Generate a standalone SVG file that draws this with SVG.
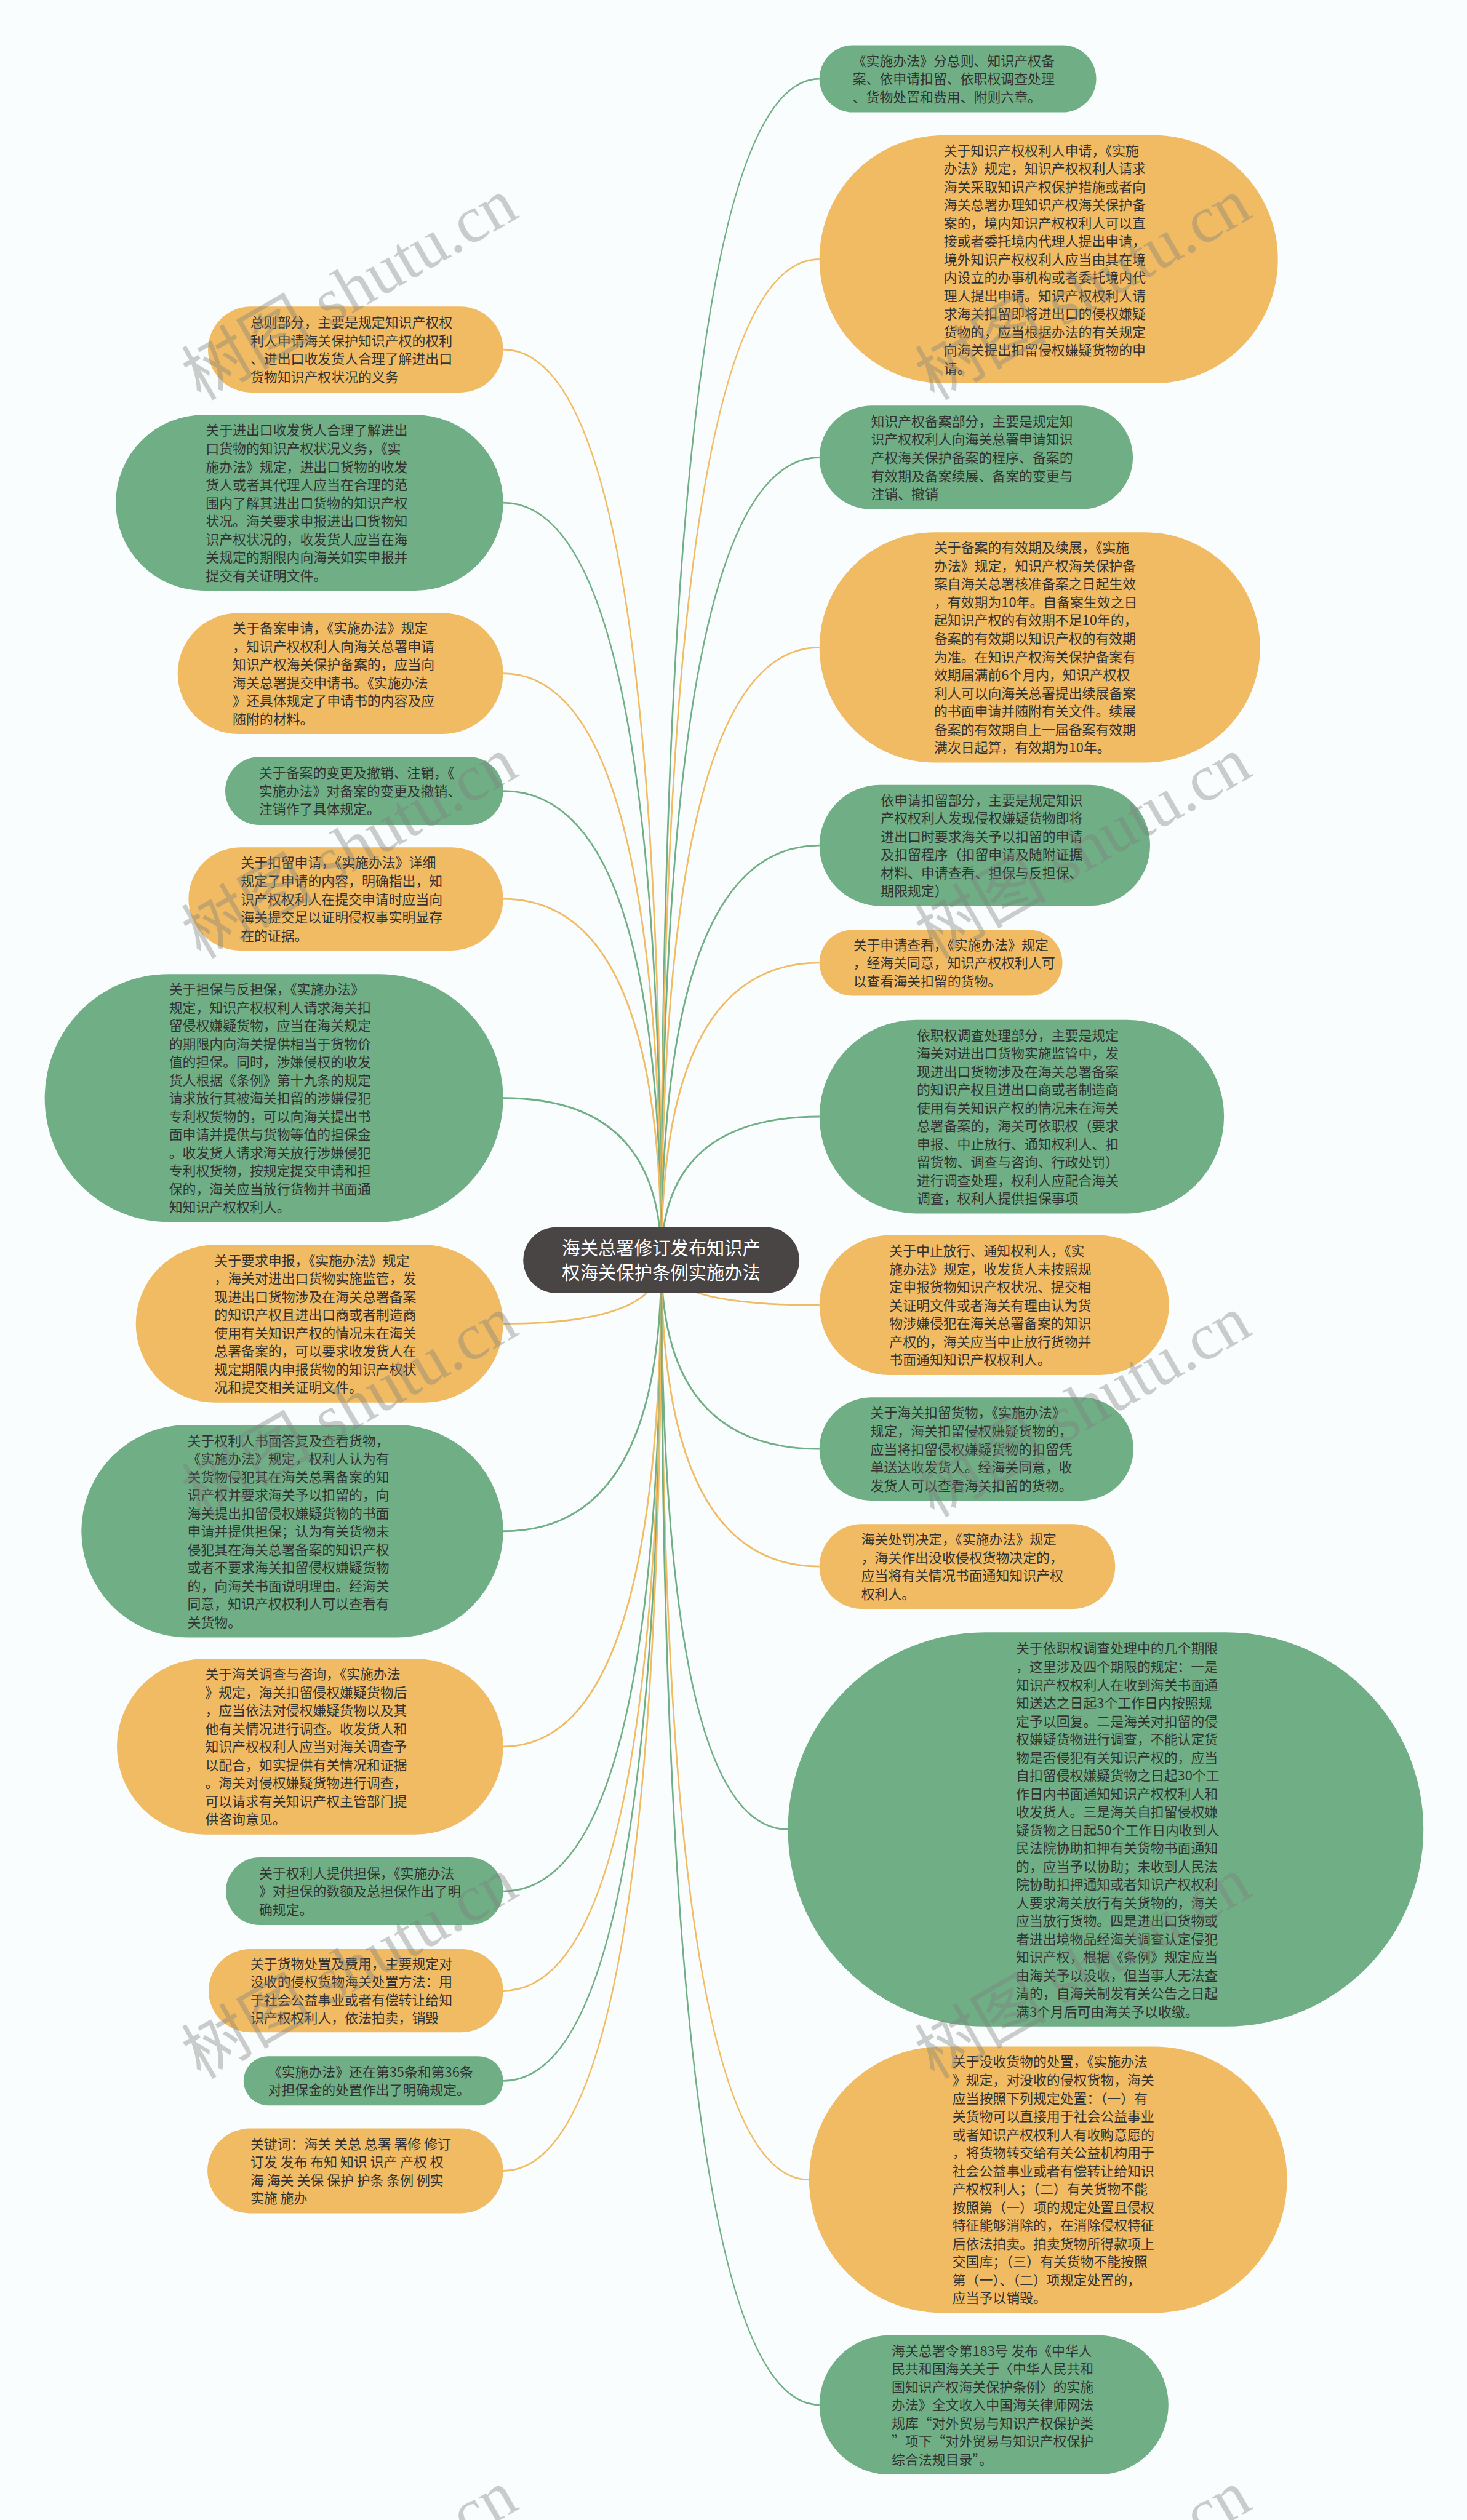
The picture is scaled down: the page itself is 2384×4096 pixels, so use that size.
<svg xmlns="http://www.w3.org/2000/svg" width="2384" height="4096" viewBox="0 0 2384 4096">
<style>
.g{fill:#70AF85}
.y{fill:#F0BB63}
.c{fill:none;stroke-width:3}
.lg{stroke:#70AF85}
.ly{stroke:#F0BB63}
.t{font-family:"Noto Sans CJK SC","Noto Sans",sans-serif;font-size:23.5px;fill:#333}
.rt{font-family:"Noto Sans CJK SC","Noto Sans",sans-serif;font-size:31.5px;fill:#ffffff;text-anchor:middle}
.wm{font-family:"Liberation Serif","Noto Sans CJK SC",serif;font-size:115px;fill:#7f7f7f;opacity:0.38}
</style>
<rect x="0" y="0" width="2384" height="4096" fill="#FAFDFD"/>
<g transform="scale(0.93125)">
<g id="connectors">
<path class="c ly" d="M1154 2199.5 Q1154 610 878 610"/>
<path class="c lg" d="M1154 2199.5 Q1154 877.5 878 877.5"/>
<path class="c ly" d="M1154 2199.5 Q1154 1175.5 878 1175.5"/>
<path class="c lg" d="M1154 2199.5 Q1154 1380.5 878 1380.5"/>
<path class="c ly" d="M1154 2199.5 Q1154 1569 878 1569"/>
<path class="c lg" d="M1154 2199.5 Q1154 1916.5 878 1916.5"/>
<path class="c ly" d="M1154 2199.5 Q1154 2310.5 878 2310.5"/>
<path class="c lg" d="M1154 2199.5 Q1154 2672.5 878 2672.5"/>
<path class="c ly" d="M1154 2199.5 Q1154 3048.5 878 3048.5"/>
<path class="c lg" d="M1154 2199.5 Q1154 3301 878 3301"/>
<path class="c ly" d="M1154 2199.5 Q1154 3474.5 878 3474.5"/>
<path class="c lg" d="M1154 2199.5 Q1154 3632 878 3632"/>
<path class="c ly" d="M1154 2199.5 Q1154 3789 878 3789"/>
<path class="c lg" d="M1154 2199.5 Q1154 137.5 1430 137.5"/>
<path class="c ly" d="M1154 2199.5 Q1154 452.5 1430 452.5"/>
<path class="c lg" d="M1154 2199.5 Q1154 798.5 1430 798.5"/>
<path class="c ly" d="M1154 2199.5 Q1154 1130 1430 1130"/>
<path class="c lg" d="M1154 2199.5 Q1154 1475.5 1430 1475.5"/>
<path class="c ly" d="M1154 2199.5 Q1154 1680.5 1430 1680.5"/>
<path class="c lg" d="M1154 2199.5 Q1154 1949 1430 1949"/>
<path class="c ly" d="M1154 2199.5 Q1154 2278 1430 2278"/>
<path class="c lg" d="M1154 2199.5 Q1154 2529 1430 2529"/>
<path class="c ly" d="M1154 2199.5 Q1154 2734 1430 2734"/>
<path class="c lg" d="M1154 2199.5 Q1154 3193 1375 3193"/>
<path class="c ly" d="M1154 2199.5 Q1154 3804.5 1412 3804.5"/>
<path class="c lg" d="M1154 2199.5 Q1154 4197.5 1430 4197.5"/>
</g>

<g id="root">
<rect x="913" y="2142" width="482" height="115" rx="57.5" fill="#4A4545"/>
<text class="rt" x="1154" y="2189">海关总署修订发布知识产</text>
<text class="rt" x="1154" y="2232">权海关保护条例实施办法</text>
</g>

<g id="L1">
<rect class="y" x="363" y="535" width="515" height="150" rx="75"/>
<text class="t" y="571.5"><tspan x="437">总则部分，主要是规定知识产权权</tspan><tspan x="437" dy="31.7">利人申请海关保护知识产权的权利</tspan><tspan x="437" dy="31.7">、进出口收发货人合理了解进出口</tspan><tspan x="437" dy="31.7">货物知识产权状况的义务</tspan></text>
</g>
<g id="L2">
<rect class="g" x="202" y="724" width="676" height="307" rx="153.5"/>
<text class="t" y="759.7"><tspan x="359">关于进出口收发货人合理了解进出</tspan><tspan x="359" dy="31.7">口货物的知识产权状况义务，《实</tspan><tspan x="359" dy="31.7">施办法》规定，进出口货物的收发</tspan><tspan x="359" dy="31.7">货人或者其代理人应当在合理的范</tspan><tspan x="359" dy="31.7">围内了解其进出口货物的知识产权</tspan><tspan x="359" dy="31.7">状况。海关要求申报进出口货物知</tspan><tspan x="359" dy="31.7">识产权状况的，收发货人应当在海</tspan><tspan x="359" dy="31.7">关规定的期限内向海关如实申报并</tspan><tspan x="359" dy="31.7">提交有关证明文件。</tspan></text>
</g>
<g id="L3">
<rect class="y" x="310" y="1070" width="568" height="211" rx="105.5"/>
<text class="t" y="1105.3"><tspan x="406">关于备案申请，《实施办法》规定</tspan><tspan x="406" dy="31.7">，知识产权权利人向海关总署申请</tspan><tspan x="406" dy="31.7">知识产权海关保护备案的，应当向</tspan><tspan x="406" dy="31.7">海关总署提交申请书。《实施办法</tspan><tspan x="406" dy="31.7">》还具体规定了申请书的内容及应</tspan><tspan x="406" dy="31.7">随附的材料。</tspan></text>
</g>
<g id="L4">
<rect class="g" x="393" y="1321" width="485" height="119" rx="59.5"/>
<text class="t" y="1357.8"><tspan x="452">关于备案的变更及撤销、注销，《</tspan><tspan x="452" dy="31.7">实施办法》对备案的变更及撤销、</tspan><tspan x="452" dy="31.7">注销作了具体规定。</tspan></text>
</g>
<g id="L5">
<rect class="y" x="329" y="1479" width="549" height="180" rx="90"/>
<text class="t" y="1514.6"><tspan x="420">关于扣留申请，《实施办法》详细</tspan><tspan x="420" dy="31.7">规定了申请的内容，明确指出，知</tspan><tspan x="420" dy="31.7">识产权权利人在提交申请时应当向</tspan><tspan x="420" dy="31.7">海关提交足以证明侵权事实明显存</tspan><tspan x="420" dy="31.7">在的证据。</tspan></text>
</g>
<g id="L6">
<rect class="g" x="78" y="1700" width="800" height="433" rx="216.5"/>
<text class="t" y="1735.3"><tspan x="295">关于担保与反担保，《实施办法》</tspan><tspan x="295" dy="31.7">规定，知识产权权利人请求海关扣</tspan><tspan x="295" dy="31.7">留侵权嫌疑货物，应当在海关规定</tspan><tspan x="295" dy="31.7">的期限内向海关提供相当于货物价</tspan><tspan x="295" dy="31.7">值的担保。同时，涉嫌侵权的收发</tspan><tspan x="295" dy="31.7">货人根据《条例》第十九条的规定</tspan><tspan x="295" dy="31.7">请求放行其被海关扣留的涉嫌侵犯</tspan><tspan x="295" dy="31.7">专利权货物的，可以向海关提出书</tspan><tspan x="295" dy="31.7">面申请并提供与货物等值的担保金</tspan><tspan x="295" dy="31.7">。收发货人请求海关放行涉嫌侵犯</tspan><tspan x="295" dy="31.7">专利权货物，按规定提交申请和担</tspan><tspan x="295" dy="31.7">保的，海关应当放行货物并书面通</tspan><tspan x="295" dy="31.7">知知识产权权利人。</tspan></text>
</g>
<g id="L7">
<rect class="y" x="237" y="2173" width="641" height="275" rx="137.5"/>
<text class="t" y="2208.6"><tspan x="374">关于要求申报，《实施办法》规定</tspan><tspan x="374" dy="31.7">，海关对进出口货物实施监管，发</tspan><tspan x="374" dy="31.7">现进出口货物涉及在海关总署备案</tspan><tspan x="374" dy="31.7">的知识产权且进出口商或者制造商</tspan><tspan x="374" dy="31.7">使用有关知识产权的情况未在海关</tspan><tspan x="374" dy="31.7">总署备案的，可以要求收发货人在</tspan><tspan x="374" dy="31.7">规定期限内申报货物的知识产权状</tspan><tspan x="374" dy="31.7">况和提交相关证明文件。</tspan></text>
</g>
<g id="L8">
<rect class="g" x="142" y="2487" width="736" height="371" rx="185.5"/>
<text class="t" y="2523"><tspan x="327">关于权利人书面答复及查看货物，</tspan><tspan x="327" dy="31.7">《实施办法》规定，权利人认为有</tspan><tspan x="327" dy="31.7">关货物侵犯其在海关总署备案的知</tspan><tspan x="327" dy="31.7">识产权并要求海关予以扣留的，向</tspan><tspan x="327" dy="31.7">海关提出扣留侵权嫌疑货物的书面</tspan><tspan x="327" dy="31.7">申请并提供担保；认为有关货物未</tspan><tspan x="327" dy="31.7">侵犯其在海关总署备案的知识产权</tspan><tspan x="327" dy="31.7">或者不要求海关扣留侵权嫌疑货物</tspan><tspan x="327" dy="31.7">的，向海关书面说明理由。经海关</tspan><tspan x="327" dy="31.7">同意，知识产权权利人可以查看有</tspan><tspan x="327" dy="31.7">关货物。</tspan></text>
</g>
<g id="L9">
<rect class="y" x="204" y="2895" width="674" height="307" rx="153.5"/>
<text class="t" y="2930.7"><tspan x="358">关于海关调查与咨询，《实施办法</tspan><tspan x="358" dy="31.7">》规定，海关扣留侵权嫌疑货物后</tspan><tspan x="358" dy="31.7">，应当依法对侵权嫌疑货物以及其</tspan><tspan x="358" dy="31.7">他有关情况进行调查。收发货人和</tspan><tspan x="358" dy="31.7">知识产权权利人应当对海关调查予</tspan><tspan x="358" dy="31.7">以配合，如实提供有关情况和证据</tspan><tspan x="358" dy="31.7">。海关对侵权嫌疑货物进行调查，</tspan><tspan x="358" dy="31.7">可以请求有关知识产权主管部门提</tspan><tspan x="358" dy="31.7">供咨询意见。</tspan></text>
</g>
<g id="L10">
<rect class="g" x="394" y="3242" width="484" height="118" rx="59"/>
<text class="t" y="3278.3"><tspan x="452">关于权利人提供担保，《实施办法</tspan><tspan x="452" dy="31.7">》对担保的数额及总担保作出了明</tspan><tspan x="452" dy="31.7">确规定。</tspan></text>
</g>
<g id="L11">
<rect class="y" x="364" y="3402" width="514" height="145" rx="72.5"/>
<text class="t" y="3436"><tspan x="437">关于货物处置及费用，主要规定对</tspan><tspan x="437" dy="31.7">没收的侵权货物海关处置方法：用</tspan><tspan x="437" dy="31.7">于社会公益事业或者有偿转让给知</tspan><tspan x="437" dy="31.7">识产权权利人，依法拍卖，销毁</tspan></text>
</g>
<g id="L12">
<rect class="g" x="425" y="3589" width="453" height="86" rx="43"/>
<text class="t" y="3625.2"><tspan x="468">《实施办法》还在第35条和第36条</tspan><tspan x="468" dy="31.7">对担保金的处置作出了明确规定。</tspan></text>
</g>
<g id="L13">
<rect class="y" x="362" y="3715" width="516" height="148" rx="74"/>
<text class="t" y="3750.5"><tspan x="437">关键词：海关 关总 总署 署修 修订</tspan><tspan x="437" dy="31.7">订发 发布 布知 知识 识产 产权 权</tspan><tspan x="437" dy="31.7">海 海关 关保 保护 护条 条例 例实</tspan><tspan x="437" dy="31.7">实施 施办</tspan></text>
</g>

<g id="R1">
<rect class="g" x="1430" y="79" width="483" height="117" rx="58.5"/>
<text class="t" y="114.8"><tspan x="1488">《实施办法》分总则、知识产权备</tspan><tspan x="1488" dy="31.7">案、依申请扣留、依职权调查处理</tspan><tspan x="1488" dy="31.7">、货物处置和费用、附则六章。</tspan></text>
</g>
<g id="R2">
<rect class="y" x="1430" y="236" width="800" height="433" rx="216.5"/>
<text class="t" y="271.3"><tspan x="1647">关于知识产权权利人申请，《实施</tspan><tspan x="1647" dy="31.7">办法》规定，知识产权权利人请求</tspan><tspan x="1647" dy="31.7">海关采取知识产权保护措施或者向</tspan><tspan x="1647" dy="31.7">海关总署办理知识产权海关保护备</tspan><tspan x="1647" dy="31.7">案的，境内知识产权权利人可以直</tspan><tspan x="1647" dy="31.7">接或者委托境内代理人提出申请，</tspan><tspan x="1647" dy="31.7">境外知识产权权利人应当由其在境</tspan><tspan x="1647" dy="31.7">内设立的办事机构或者委托境内代</tspan><tspan x="1647" dy="31.7">理人提出申请。知识产权权利人请</tspan><tspan x="1647" dy="31.7">求海关扣留即将进出口的侵权嫌疑</tspan><tspan x="1647" dy="31.7">货物的，应当根据办法的有关规定</tspan><tspan x="1647" dy="31.7">向海关提出扣留侵权嫌疑货物的申</tspan><tspan x="1647" dy="31.7">请。</tspan></text>
</g>
<g id="R3">
<rect class="g" x="1430" y="708" width="547" height="181" rx="90.5"/>
<text class="t" y="744.1"><tspan x="1520">知识产权备案部分，主要是规定知</tspan><tspan x="1520" dy="31.7">识产权权利人向海关总署申请知识</tspan><tspan x="1520" dy="31.7">产权海关保护备案的程序、备案的</tspan><tspan x="1520" dy="31.7">有效期及备案续展、备案的变更与</tspan><tspan x="1520" dy="31.7">注销、撤销</tspan></text>
</g>
<g id="R4">
<rect class="y" x="1430" y="929" width="769" height="402" rx="201"/>
<text class="t" y="964.7"><tspan x="1630">关于备案的有效期及续展，《实施</tspan><tspan x="1630" dy="31.7">办法》规定，知识产权海关保护备</tspan><tspan x="1630" dy="31.7">案自海关总署核准备案之日起生效</tspan><tspan x="1630" dy="31.7">，有效期为10年。自备案生效之日</tspan><tspan x="1630" dy="31.7">起知识产权的有效期不足10年的，</tspan><tspan x="1630" dy="31.7">备案的有效期以知识产权的有效期</tspan><tspan x="1630" dy="31.7">为准。在知识产权海关保护备案有</tspan><tspan x="1630" dy="31.7">效期届满前6个月内，知识产权权</tspan><tspan x="1630" dy="31.7">利人可以向海关总署提出续展备案</tspan><tspan x="1630" dy="31.7">的书面申请并随附有关文件。续展</tspan><tspan x="1630" dy="31.7">备案的有效期自上一届备案有效期</tspan><tspan x="1630" dy="31.7">满次日起算，有效期为10年。</tspan></text>
</g>
<g id="R5">
<rect class="g" x="1430" y="1370" width="577" height="211" rx="105.5"/>
<text class="t" y="1405.3"><tspan x="1537">依申请扣留部分，主要是规定知识</tspan><tspan x="1537" dy="31.7">产权权利人发现侵权嫌疑货物即将</tspan><tspan x="1537" dy="31.7">进出口时要求海关予以扣留的申请</tspan><tspan x="1537" dy="31.7">及扣留程序（扣留申请及随附证据</tspan><tspan x="1537" dy="31.7">材料、申请查看、担保与反担保、</tspan><tspan x="1537" dy="31.7">期限规定）</tspan></text>
</g>
<g id="R6">
<rect class="y" x="1430" y="1623" width="424" height="115" rx="57.5"/>
<text class="t" y="1657.8"><tspan x="1489">关于申请查看，《实施办法》规定</tspan><tspan x="1489" dy="31.7">，经海关同意，知识产权权利人可</tspan><tspan x="1489" dy="31.7">以查看海关扣留的货物。</tspan></text>
</g>
<g id="R7">
<rect class="g" x="1430" y="1780" width="706" height="338" rx="169"/>
<text class="t" y="1815.4"><tspan x="1600">依职权调查处理部分，主要是规定</tspan><tspan x="1600" dy="31.7">海关对进出口货物实施监管中，发</tspan><tspan x="1600" dy="31.7">现进出口货物涉及在海关总署备案</tspan><tspan x="1600" dy="31.7">的知识产权且进出口商或者制造商</tspan><tspan x="1600" dy="31.7">使用有关知识产权的情况未在海关</tspan><tspan x="1600" dy="31.7">总署备案的，海关可依职权（要求</tspan><tspan x="1600" dy="31.7">申报、中止放行、通知权利人、扣</tspan><tspan x="1600" dy="31.7">留货物、调查与咨询、行政处罚）</tspan><tspan x="1600" dy="31.7">进行调查处理，权利人应配合海关</tspan><tspan x="1600" dy="31.7">调查，权利人提供担保事项</tspan></text>
</g>
<g id="R8">
<rect class="y" x="1430" y="2156" width="610" height="244" rx="122"/>
<text class="t" y="2191.9"><tspan x="1552">关于中止放行、通知权利人，《实</tspan><tspan x="1552" dy="31.7">施办法》规定，收发货人未按照规</tspan><tspan x="1552" dy="31.7">定申报货物知识产权状况、提交相</tspan><tspan x="1552" dy="31.7">关证明文件或者海关有理由认为货</tspan><tspan x="1552" dy="31.7">物涉嫌侵犯在海关总署备案的知识</tspan><tspan x="1552" dy="31.7">产权的，海关应当中止放行货物并</tspan><tspan x="1552" dy="31.7">书面通知知识产权权利人。</tspan></text>
</g>
<g id="R9">
<rect class="g" x="1430" y="2439" width="548" height="180" rx="90"/>
<text class="t" y="2474.6"><tspan x="1519">关于海关扣留货物，《实施办法》</tspan><tspan x="1519" dy="31.7">规定，海关扣留侵权嫌疑货物的，</tspan><tspan x="1519" dy="31.7">应当将扣留侵权嫌疑货物的扣留凭</tspan><tspan x="1519" dy="31.7">单送达收发货人。经海关同意，收</tspan><tspan x="1519" dy="31.7">发货人可以查看海关扣留的货物。</tspan></text>
</g>
<g id="R10">
<rect class="y" x="1430" y="2660" width="516" height="148" rx="74"/>
<text class="t" y="2695.5"><tspan x="1503">海关处罚决定，《实施办法》规定</tspan><tspan x="1503" dy="31.7">，海关作出没收侵权货物决定的，</tspan><tspan x="1503" dy="31.7">应当将有关情况书面通知知识产权</tspan><tspan x="1503" dy="31.7">权利人。</tspan></text>
</g>
<g id="R11">
<rect class="g" x="1375" y="2849" width="1109" height="688" rx="344"/>
<text class="t" y="2885.9"><tspan x="1773">关于依职权调查处理中的几个期限</tspan><tspan x="1773" dy="31.7">，这里涉及四个期限的规定：一是</tspan><tspan x="1773" dy="31.7">知识产权权利人在收到海关书面通</tspan><tspan x="1773" dy="31.7">知送达之日起3个工作日内按照规</tspan><tspan x="1773" dy="31.7">定予以回复。二是海关对扣留的侵</tspan><tspan x="1773" dy="31.7">权嫌疑货物进行调查，不能认定货</tspan><tspan x="1773" dy="31.7">物是否侵犯有关知识产权的，应当</tspan><tspan x="1773" dy="31.7">自扣留侵权嫌疑货物之日起30个工</tspan><tspan x="1773" dy="31.7">作日内书面通知知识产权权利人和</tspan><tspan x="1773" dy="31.7">收发货人。三是海关自扣留侵权嫌</tspan><tspan x="1773" dy="31.7">疑货物之日起50个工作日内收到人</tspan><tspan x="1773" dy="31.7">民法院协助扣押有关货物书面通知</tspan><tspan x="1773" dy="31.7">的，应当予以协助；未收到人民法</tspan><tspan x="1773" dy="31.7">院协助扣押通知或者知识产权权利</tspan><tspan x="1773" dy="31.7">人要求海关放行有关货物的，海关</tspan><tspan x="1773" dy="31.7">应当放行货物。四是进出口货物或</tspan><tspan x="1773" dy="31.7">者进出境物品经海关调查认定侵犯</tspan><tspan x="1773" dy="31.7">知识产权，根据《条例》规定应当</tspan><tspan x="1773" dy="31.7">由海关予以没收，但当事人无法查</tspan><tspan x="1773" dy="31.7">清的，自海关制发有关公告之日起</tspan><tspan x="1773" dy="31.7">满3个月后可由海关予以收缴。</tspan></text>
</g>
<g id="R12">
<rect class="y" x="1412" y="3572" width="834" height="465" rx="232.5"/>
<text class="t" y="3607.5"><tspan x="1662">关于没收货物的处置，《实施办法</tspan><tspan x="1662" dy="31.7">》规定，对没收的侵权货物，海关</tspan><tspan x="1662" dy="31.7">应当按照下列规定处置：（一）有</tspan><tspan x="1662" dy="31.7">关货物可以直接用于社会公益事业</tspan><tspan x="1662" dy="31.7">或者知识产权权利人有收购意愿的</tspan><tspan x="1662" dy="31.7">，将货物转交给有关公益机构用于</tspan><tspan x="1662" dy="31.7">社会公益事业或者有偿转让给知识</tspan><tspan x="1662" dy="31.7">产权权利人；（二）有关货物不能</tspan><tspan x="1662" dy="31.7">按照第（一）项的规定处置且侵权</tspan><tspan x="1662" dy="31.7">特征能够消除的，在消除侵权特征</tspan><tspan x="1662" dy="31.7">后依法拍卖。拍卖货物所得款项上</tspan><tspan x="1662" dy="31.7">交国库；（三）有关货物不能按照</tspan><tspan x="1662" dy="31.7">第（一）、（二）项规定处置的，</tspan><tspan x="1662" dy="31.7">应当予以销毁。</tspan></text>
</g>
<g id="R13">
<rect class="g" x="1430" y="4076" width="609" height="243" rx="121.5"/>
<text class="t" y="4111.4"><tspan x="1556">海关总署令第183号  发布《中华人</tspan><tspan x="1556" dy="31.7">民共和国海关关于〈中华人民共和</tspan><tspan x="1556" dy="31.7">国知识产权海关保护条例〉的实施</tspan><tspan x="1556" dy="31.7">办法》全文收入中国海关律师网法</tspan><tspan x="1556" dy="31.7">规库“对外贸易与知识产权保护类</tspan><tspan x="1556" dy="31.7">”项下“对外贸易与知识产权保护</tspan><tspan x="1556" dy="31.7">综合法规目录”。</tspan></text>
</g>

<g id="watermarks">
<text class="wm" x="350" y="700" transform="rotate(-30 350 700)">树图 shutu.cn</text>
<text class="wm" x="1630" y="700" transform="rotate(-30 1630 700)">树图 shutu.cn</text>
<text class="wm" x="350" y="1675" transform="rotate(-30 350 1675)">树图 shutu.cn</text>
<text class="wm" x="1630" y="1675" transform="rotate(-30 1630 1675)">树图 shutu.cn</text>
<text class="wm" x="350" y="2650" transform="rotate(-30 350 2650)">树图 shutu.cn</text>
<text class="wm" x="1630" y="2650" transform="rotate(-30 1630 2650)">树图 shutu.cn</text>
<text class="wm" x="350" y="3630" transform="rotate(-30 350 3630)">树图 shutu.cn</text>
<text class="wm" x="1630" y="3630" transform="rotate(-30 1630 3630)">树图 shutu.cn</text>
<text class="wm" x="350" y="4700" transform="rotate(-30 350 4700)">树图 shutu.cn</text>
<text class="wm" x="1630" y="4700" transform="rotate(-30 1630 4700)">树图 shutu.cn</text>
</g>
</g>
</svg>
